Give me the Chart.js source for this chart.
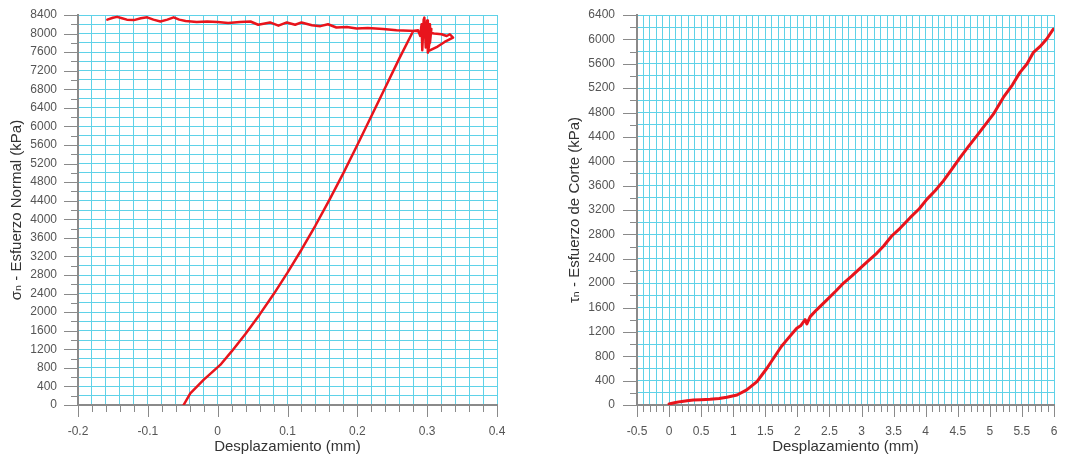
<!DOCTYPE html>
<html>
<head>
<meta charset="utf-8">
<script src="https://cdn.jsdelivr.net/npm/chart.js@4.4.1/dist/chart.umd.min.js"></script>
<style>
html,body{margin:0;padding:0;background:#fff;width:1066px;height:456px;overflow:hidden;}
canvas{position:absolute;top:0;}
#c1{left:0;}
#c2{left:533px;}
</style>
</head>
<body>
<canvas id="c1" width="533" height="456"></canvas>
<canvas id="c2" width="533" height="456"></canvas>
<script>
// ---------- Left chart data: normal stress vs displacement ----------
const normalX = [
  -0.0488, -0.0392, -0.0202, 0.0037, 0.020, 0.040, 0.060, 0.080, 0.100, 0.120,
  0.140, 0.160, 0.180, 0.200, 0.220, 0.240, 0.260, 0.2800,
  0.2870, 0.2900, 0.2920, 0.2930, 0.2950, 0.2960, 0.2980, 0.3000, 0.3010, 0.3030, 0.3040, 0.3060, 0.3015,
  0.3150, 0.3250, 0.3370, 0.3325, 0.3280, 0.3207, 0.3100, 0.3000, 0.2900, 0.2850,
  0.275, 0.256, 0.237, 0.215, 0.199, 0.185, 0.170, 0.158, 0.147, 0.135,
  0.120, 0.111, 0.099, 0.087, 0.075, 0.058, 0.047, 0.032, 0.015, 0.000,
  -0.015, -0.030, -0.046, -0.055, -0.063, -0.072, -0.082, -0.092, -0.101, -0.110,
  -0.120, -0.130, -0.137, -0.144, -0.150, -0.158
];
const normalY = [
  0, 252, 540, 863, 1154, 1536, 1946, 2384, 2850, 3344,
  3866, 4416, 4994, 5600, 6220, 6840, 7460, 8056,
  8070, 7950, 8200, 7640, 8300, 8344, 7700, 8280, 7590, 8200, 7800, 8100, 7620,
  7720, 7820, 7913, 7985, 7948, 7985, 8000, 8021, 8040, 8056,
  8060, 8070, 8100, 8120, 8110, 8140, 8130, 8200, 8160, 8180,
  8240, 8190, 8240, 8170, 8240, 8190, 8260, 8250, 8230, 8250,
  8260, 8250, 8270, 8300, 8350, 8300, 8260, 8300, 8350, 8330,
  8290, 8300, 8330, 8360, 8340, 8300
];
const leftXTickLabels = ['-0.2', '-0.1', '0', '0.1', '0.2', '0.3', '0.4'];
const leftYTickLabels = ['0','400','800','1200','1600','2000','2400','2800','3200','3600','4000',
  '4400','4800','5200','5600','6000','6400','6800','7200','7600','8000','8400'];

// ---------- Right chart data: shear stress vs displacement ----------
const shearX = [
  0.00, 0.10, 0.174, 0.28, 0.38, 0.50, 0.64, 0.78, 0.90, 1.06, 1.21, 1.37, 1.525, 1.68, 1.75,
  1.836, 1.99, 2.05, 2.12, 2.148, 2.20, 2.30, 2.46, 2.60, 2.72, 2.85, 2.98, 3.10, 3.24, 3.345,
  3.445, 3.47, 3.60, 3.757, 3.90, 4.017, 4.15, 4.276, 4.40, 4.536, 4.65, 4.796, 4.93, 5.055,
  5.21, 5.35, 5.47, 5.58, 5.68, 5.78, 5.886, 5.99
];
const shearY = [
  16, 40, 55, 70, 82, 88, 94, 105, 127, 164, 247, 383, 603, 850, 960,
  1069, 1261, 1300, 1400, 1332, 1450, 1562, 1726, 1870, 2001, 2120, 2247, 2360, 2494, 2610,
  2741, 2773, 2900, 3074, 3220, 3375, 3520, 3678, 3860, 4061, 4220, 4417, 4600, 4773,
  5047, 5250, 5458, 5600, 5787, 5880, 6006, 6170
];
const rightXTickLabels = ['-0.5','0','0.5','1','1.5','2','2.5','3','3.5','4','4.5','5','5.5','6'];
const rightYTickLabels = ['0','400','800','1200','1600','2000','2400','2800','3200','3600','4000',
  '4400','4800','5200','5600','6000','6400'];

// ---------- styling ----------
const GRID = '#5fd2e8';
const AXIS = '#8a8a8a';
const RED = '#e8141c';
const FONT = "'Liberation Sans', Arial, 'DejaVu Sans', sans-serif";

function toPoints(xs, ys) { return xs.map((x, i) => ({x: x, y: ys[i]})); }

function axisTicks(labels, minorStep) {
  const majors = labels.map(parseFloat);
  const min = majors[0], max = majors[majors.length - 1];
  const n = Math.round((max - min) / minorStep);
  const vals = [];
  for (let i = 0; i <= n; i++) vals.push(Math.round((min + i * minorStep) * 1e6) / 1e6);
  return {
    min, max,
    build: scale => { scale.ticks = vals.map(v => ({value: v})); },
    cb: value => {
      const k = majors.findIndex(m => Math.abs(m - value) < 1e-7);
      return k >= 0 ? labels[k] : '';
    }
  };
}

const tickPlugin = {
  id: 'tickMarks',
  afterDraw(chart) {
    const ctx = chart.ctx;
    ctx.save();
    ctx.strokeStyle = AXIS;
    ctx.lineWidth = 1;
    const xs = chart.scales.x, ys = chart.scales.y;
    const a = chart.chartArea;
    ctx.beginPath();
    xs.ticks.forEach((t) => {
      const p = Math.round(xs.getPixelForValue(t.value)) + 0.5;
      const len = (t.label !== '' && t.label != null) ? 12 : 7;
      ctx.moveTo(p, a.bottom);
      ctx.lineTo(p, a.bottom + len);
    });
    ys.ticks.forEach((t) => {
      const p = Math.round(ys.getPixelForValue(t.value)) + 0.5;
      const len = (t.label !== '' && t.label != null) ? 14 : 7;
      ctx.moveTo(a.left, p);
      ctx.lineTo(a.left - len, p);
    });
    ctx.stroke();
    ctx.restore();
  }
};

function zeroPad(s) { s.paddingTop = 0; s.paddingBottom = 0; s.paddingLeft = 0; s.paddingRight = 0; }

function makeChart(id, pts, xLab, xStep, yLab, yStep, yTitle, cfg) {
  const xt = axisTicks(xLab, xStep);
  const yt = axisTicks(yLab, yStep);
  return new Chart(document.getElementById(id), {
    type: 'scatter',
    data: {
      datasets: [{
        data: pts, showLine: true, borderColor: RED, backgroundColor: RED,
        borderWidth: cfg.lw, pointRadius: 0, tension: 0,
        borderJoinStyle: 'round', borderCapStyle: 'round'
      }]
    },
    options: {
      responsive: false, animation: false, devicePixelRatio: 1,
      layout: {padding: {left: 0, top: 15, right: cfg.padRight, bottom: 0}},
      plugins: {legend: {display: false}, tooltip: {enabled: false}},
      scales: {
        x: {
          type: 'linear', min: xt.min, max: xt.max,
          afterBuildTicks: xt.build,
          afterFit: s => { s.height = 51; zeroPad(s); },
          grid: {color: GRID, lineWidth: 1, drawTicks: false},
          border: {color: AXIS, width: 2},
          ticks: {
            callback: xt.cb, autoSkip: false, maxRotation: 0, minRotation: 0,
            padding: 19, color: '#555', font: {family: FONT, size: 12}
          },
          title: {
            display: true, text: 'Desplazamiento (mm)', color: '#333',
            font: {family: FONT, size: 15}, padding: {top: 0, bottom: 0}
          }
        },
        y: {
          type: 'linear', min: yt.min, max: yt.max,
          afterBuildTicks: yt.build,
          afterFit: s => { s.width = cfg.yWidth; zeroPad(s); },
          grid: {color: GRID, lineWidth: 1, drawTicks: false},
          border: {color: AXIS, width: 2},
          ticks: {
            callback: yt.cb, autoSkip: false,
            padding: cfg.yLabPad, color: '#555', font: {family: FONT, size: 12}
          },
          title: {
            display: true, text: yTitle, color: '#333',
            font: {family: FONT, size: 15}, padding: {top: cfg.yTitlePad, bottom: 0}
          }
        }
      }
    },
    plugins: [tickPlugin]
  });
}

makeChart('c1', toPoints(normalX, normalY), leftXTickLabels, 0.02, leftYTickLabels, 200,
  'σₙ - Esfuerzo Normal (kPa)', {lw: 2.5, padRight: 36, yWidth: 78, yLabPad: 21, yTitlePad: 8});
makeChart('c2', toPoints(shearX, shearY), rightXTickLabels, 0.1, rightYTickLabels, 200,
  'τₙ - Esfuerzo de Corte (kPa)', {lw: 3, padRight: 12, yWidth: 104, yLabPad: 22, yTitlePad: 33});
</script>
</body>
</html>
